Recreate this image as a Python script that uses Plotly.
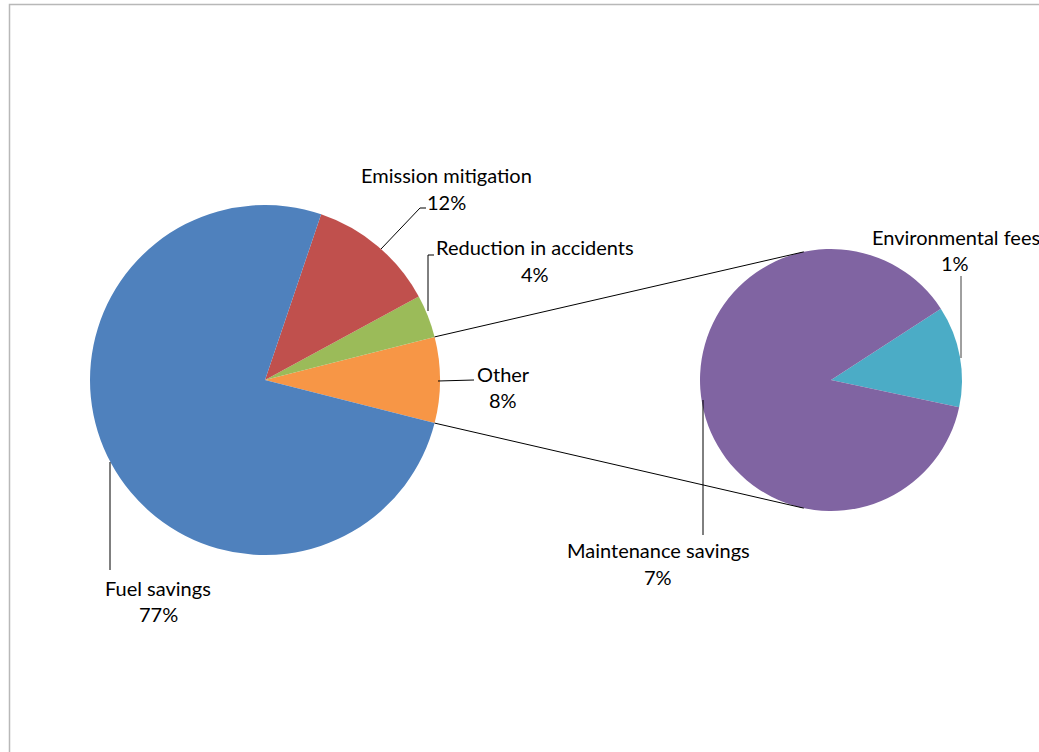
import math
import plotly.graph_objects as go

# ---- data ----
main_labels = ["Other", "Reduction in accidents", "Emission mitigation", "Fuel savings"]
main_values = [8, 4, 12, 77]
main_colors = ["#F79646", "#9BBB59", "#C0504D", "#4F81BD"]

sub_labels = ["Environmental fees", "Maintenance savings"]
sub_values = [1, 7]
sub_colors = ["#4BACC6", "#8064A2"]

W, H = 1039, 752
FONT = "Lato, Carlito, Calibri, sans-serif"

# geometry (pixels)
mc, mr = (265, 380), 175
sc, sr = (831, 380), 131


def px(x):
    return x / W


def py(y):
    return 1 - y / H


def dom(c, r):
    return dict(x=[px(c[0] - r), px(c[0] + r)], y=[py(c[1] + r), py(c[1] - r)])


tot = sum(main_values)
half_other = 180.0 * main_values[0] / tot
sub_tot = sum(sub_values)
env_deg = 360.0 * sub_values[0] / sub_tot

fig = go.Figure()
fig.add_trace(go.Pie(
    labels=main_labels, values=main_values, sort=False, direction="counterclockwise",
    rotation=90 - half_other, domain=dom(mc, mr), textinfo="none", hoverinfo="label+percent",
    marker=dict(colors=main_colors, line=dict(width=0)), showlegend=False,
))
fig.add_trace(go.Pie(
    labels=sub_labels, values=sub_values, sort=False, direction="counterclockwise",
    rotation=102 - env_deg, domain=dom(sc, sr), textinfo="none", hoverinfo="label+percent",
    marker=dict(colors=sub_colors, line=dict(width=0)), showlegend=False,
))

shapes = []


def line(x0, y0, x1, y1, color="black", w=1):
    shapes.append(dict(type="line", xref="paper", yref="paper",
                       x0=px(x0), y0=py(y0), x1=px(x1), y1=py(y1),
                       line=dict(color=color, width=w)))


def path(pts, color="black", w=1):
    d = "M " + " L ".join(f"{px(x)},{py(y)}" for x, y in pts)
    shapes.append(dict(type="path", xref="paper", yref="paper", path=d,
                       line=dict(color=color, width=w)))


# connector lines between pies
for s in (1, -1):
    a = math.radians(s * half_other)
    b = math.radians(s * 102)
    line(mc[0] + mr * math.cos(a), mc[1] - mr * math.sin(a),
         sc[0] + sr * math.cos(b), sc[1] - sr * math.sin(b))

# leader lines
path([(381, 249), (420, 208), (426, 208)])
path([(428, 311), (428, 255), (434, 255)])
line(438, 381, 474, 380)
line(110, 462, 110, 570)
line(703, 400, 703, 535)
line(961, 276, 961, 358, color="#404040")

# border
shapes.append(dict(type="rect", xref="paper", yref="paper",
                   x0=px(9.5), x1=1.02, y0=-0.02, y1=py(4.5),
                   line=dict(color="#B8B8B8", width=1.5)))

annotations = []


def lab(x, y, t):
    annotations.append(dict(x=px(x), y=py(y), xref="paper", yref="paper", text=t,
                            showarrow=False, xanchor="center", yanchor="middle",
                            font=dict(family=FONT, size=20, color="black")))


def pct(v):
    return f"{v}%"


lab(446, 175, main_labels[2]); lab(446, 202, pct(main_values[2]))
lab(535, 247, main_labels[1]); lab(535, 274, pct(main_values[1]))
lab(503, 374, main_labels[0]); lab(503, 400, pct(main_values[0]))
lab(158, 588, main_labels[3]); lab(158, 614, pct(main_values[3]))
lab(658, 550, sub_labels[1]); lab(658, 577, pct(sub_values[1]))
lab(956, 237, sub_labels[0]); lab(955, 263, pct(sub_values[0]))

fig.update_layout(width=W, height=H, margin=dict(l=0, r=0, t=0, b=0),
                  paper_bgcolor="white", plot_bgcolor="white",
                  shapes=shapes, annotations=annotations, showlegend=False)
fig.write_html("out.html")
